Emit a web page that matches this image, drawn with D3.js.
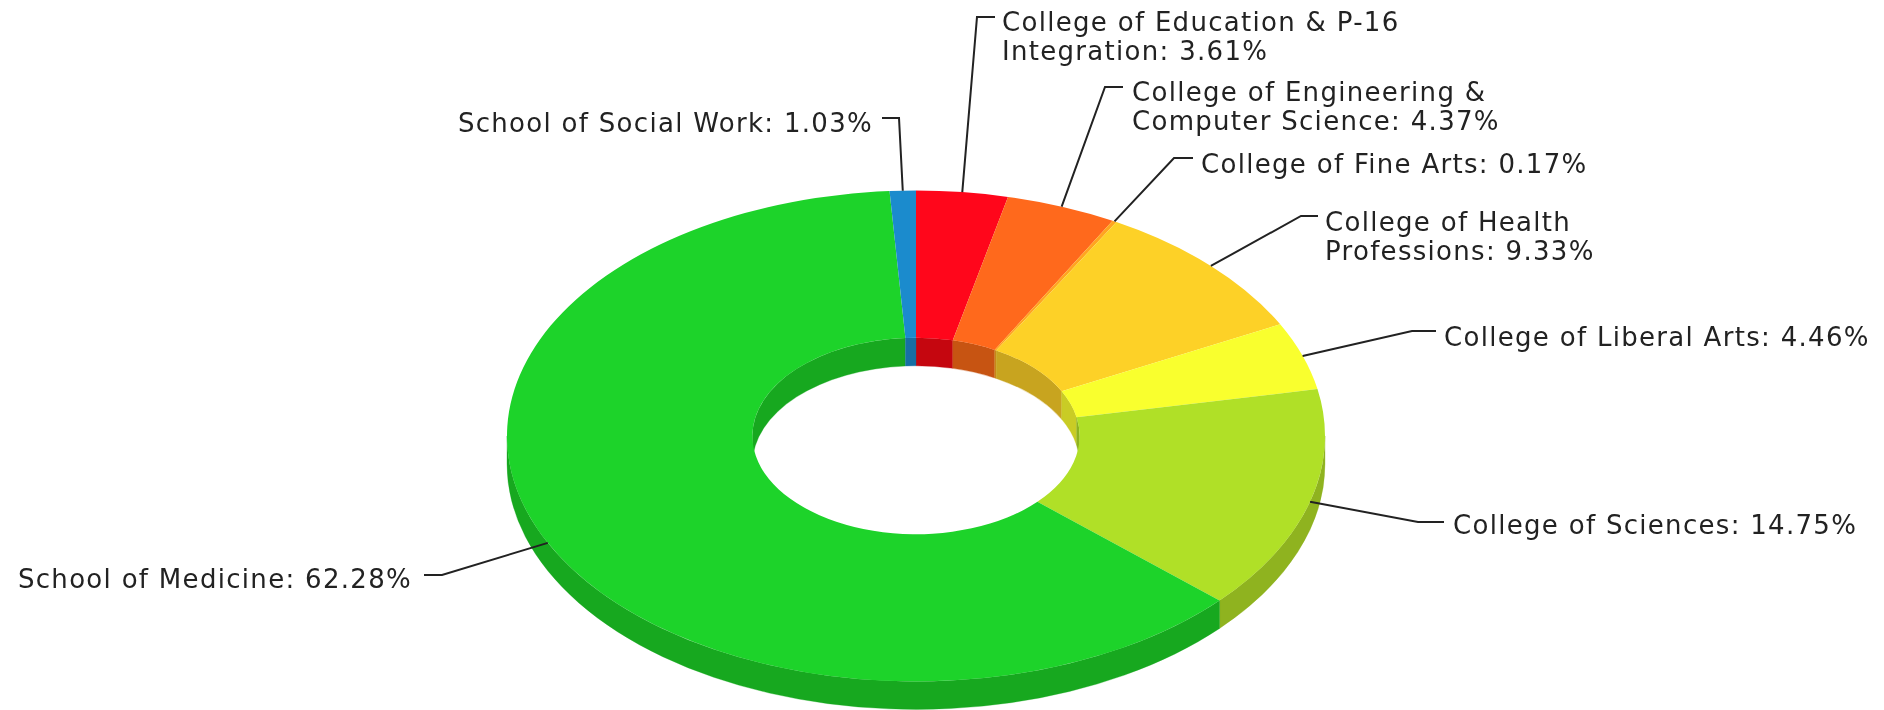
<!DOCTYPE html>
<html>
<head>
<meta charset="utf-8">
<style>
  html, body { margin: 0; padding: 0; background: #fff; overflow: hidden; }
  svg { filter: blur(0.5px); }
  text { font-family: "DejaVu Sans", Verdana, sans-serif; fill: #222; letter-spacing: 1.3px; }
</style>
<script src="https://d3js.org/d3.v7.min.js"></script>
</head>
<body>
<script>
const categories = [
  'College of Education & P-16 Integration',
  'College of Engineering & Computer Science',
  'College of Fine Arts',
  'College of Health Professions',
  'College of Liberal Arts',
  'College of Sciences',
  'School of Medicine',
  'School of Social Work'
];
const values = [3.61, 4.37, 0.17, 9.33, 4.46, 14.75, 62.28, 1.03];
const topColors = ['#ff061b', '#ff691c', '#ffa51f', '#fdd127', '#f9ff2e', '#b0e027', '#1dd32a', '#1b8bcd'];
const sideColors = ['#c5060f', '#c75412', '#c88418', '#c8a41f', '#c9cc25', '#8fb31f', '#17a81f', '#176fa4'];

// label layout: words on the first line, text anchor and leader elbow
const labelBreaks = [5, 4, null, 3, null, null, null, null];
const labelX = [1002, 1132, 1201, 1325, 1444, 1453, 412, 873];
const labelY = [22, 92, 164, 222, 337, 525, 579, 123];
const elbowX = [977, 1105, 1174, 1301, 1412, 1418, 442, 899];
const elbowY = [17, 87, 158, 216, 331, 522, 575, 118];
const stubX = [995, 1123, 1193, 1318, 1436, 1444, 424, 882];

const width = 1884;
const height = 710;
const cx = 916;
const cy = 436;
const outerR = 409;
const innerR = 163.6;
const squash = 0.6;
const depth = 28;
const fontSize = 26;
const lineGap = 29;

const svg = d3.select('body')
  .append('svg')
  .attr('width', width)
  .attr('height', height);

const pie = d3.pie()
  .sort(null)
  .value((d) => d);
const slices = pie(values);

const arc = d3.arc()
  .innerRadius(innerR)
  .outerRadius(outerR);

// the part of a slice that lies between two pie angles, or null
function clip(s, from, to) {
  const a0 = Math.max(s.startAngle, from);
  const a1 = Math.min(s.endAngle, to);
  return a1 > a0 ? [a0, a1] : null;
}

// band between the arc at y = 0 and the same arc dropped by the depth
function wall(r, range) {
  const p = d3.path();
  const t0 = range[0] - Math.PI / 2;
  const t1 = range[1] - Math.PI / 2;
  p.arc(0, 0, r, t0, t1);
  p.arc(0, depth / squash, r, t1, t0, true);
  p.closePath();
  return p.toString();
}

const disc = svg.append('g')
  .attr('transform', `translate(${cx},${cy}) scale(1,${squash})`);

const sideRanges = [];
slices.forEach((s, i) => {
  const outer = clip(s, Math.PI / 2, 3 * Math.PI / 2);
  if (outer) sideRanges.push({ r: outerR, range: outer, i });
  [clip(s, 0, Math.PI / 2), clip(s, 3 * Math.PI / 2, 2 * Math.PI)].forEach((inner) => {
    if (inner) sideRanges.push({ r: innerR, range: inner, i });
  });
});

disc.selectAll('path.side')
  .data(sideRanges)
  .join('path')
  .attr('class', 'side')
  .attr('d', (d) => wall(d.r, d.range))
  .attr('fill', (d) => sideColors[d.i])
  .attr('stroke', (d) => sideColors[d.i])
  .attr('stroke-width', 0.4);

disc.selectAll('path.top')
  .data(slices)
  .join('path')
  .attr('class', 'top')
  .attr('d', arc)
  .attr('fill', (d) => topColors[d.index]);

const leader = d3.line();

svg.selectAll('path.leader')
  .data(slices)
  .join('path')
  .attr('class', 'leader')
  .attr('fill', 'none')
  .attr('stroke', '#222')
  .attr('stroke-width', 2)
  .attr('d', (d) => {
    const mid = (d.startAngle + d.endAngle) / 2;
    return leader([
      [stubX[d.index], elbowY[d.index]],
      [elbowX[d.index], elbowY[d.index]],
      [cx + outerR * Math.sin(mid), cy - outerR * squash * Math.cos(mid)]
    ]);
  });

const labels = svg.selectAll('text.label')
  .data(slices)
  .join('text')
  .attr('class', 'label')
  .attr('font-size', fontSize)
  .attr('text-anchor', (d) => (labelX[d.index] < cx ? 'end' : 'start'))
  .attr('y', (d) => labelY[d.index] + 9);

labels.each(function (d) {
  const full = `${categories[d.index]}: ${values[d.index].toFixed(2)}%`;
  const words = full.split(' ');
  const cut = labelBreaks[d.index];
  const lines = cut ? [words.slice(0, cut).join(' '), words.slice(cut).join(' ')] : [full];
  d3.select(this).selectAll('tspan')
    .data(lines)
    .join('tspan')
    .attr('x', labelX[d.index])
    .attr('dy', (l, j) => (j ? lineGap : 0))
    .text((l) => l);
});
</script>
</body>
</html>
